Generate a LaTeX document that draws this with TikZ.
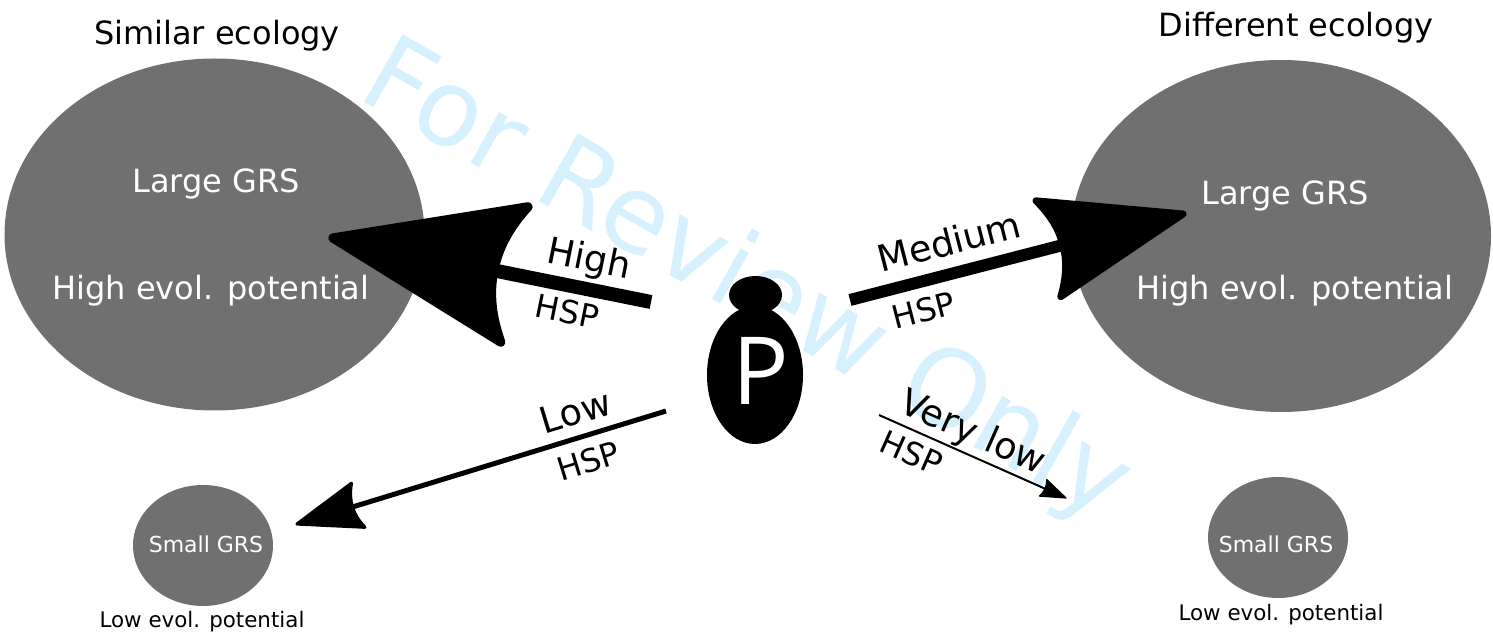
\documentclass[tikz,border=0pt]{standalone}
\usepackage{fontspec}
\setmainfont{DejaVu Sans}
\newfontfamily\lblP{Open Sans}
\usetikzlibrary{arrows.meta,shapes.geometric}
\definecolor{grsgray}{HTML}{707070}
\definecolor{wmblue}{HTML}{D6F1FD}
\pgfdeclarearrow{
  name=Scoop,
  parameters={\the\pgfarrowlength,\the\pgfarrowwidth,\the\pgfarrowinset},
  setup code={
    \pgfarrowssettipend{\pgfarrowlength}
    \pgfarrowssetlineend{1.5\pgfarrowinset}
    \pgfarrowssetbackend{0pt}
    \pgfarrowssavethe\pgfarrowlength
    \pgfarrowssavethe\pgfarrowwidth
    \pgfarrowssavethe\pgfarrowinset
  },
  drawing code={
    \pgfsetroundjoin
    \pgfsetlinewidth{.05\pgfarrowlength}
    \pgfpathmoveto{\pgfqpoint{\pgfarrowlength}{0pt}}
    \pgfpathlineto{\pgfqpoint{0pt}{.5\pgfarrowwidth}}
    \pgfpathcurveto{\pgfqpoint{.67\pgfarrowinset}{.33\pgfarrowwidth}}{\pgfqpoint{\pgfarrowinset}{.17\pgfarrowwidth}}{\pgfqpoint{\pgfarrowinset}{0pt}}
    \pgfpathcurveto{\pgfqpoint{\pgfarrowinset}{-.17\pgfarrowwidth}}{\pgfqpoint{.67\pgfarrowinset}{-.33\pgfarrowwidth}}{\pgfqpoint{0pt}{-.5\pgfarrowwidth}}
    \pgfpathclose
    \pgfusepathqfillstroke
  },
  defaults={length=10pt,width=8pt,inset=2pt}
}
\begin{document}
\begin{tikzpicture}[x=0.5pt,y=-0.5pt,
                    bigND/.style={ellipse,
                                      fill=grsgray,
                                      minimum width=210pt,
                                      minimum height=176pt,
                                      inner sep=0pt},
                    smallND/.style={ellipse,
                                      fill=grsgray,
                                      minimum width=70pt,
                                      minimum height=60.5pt,
                                      inner sep=0pt},
                    plantND/.style={ellipse,
                                      fill=black,
                                      inner sep=0pt},
                    headND/.style={font=\fontsize{16}{19}\selectfont},
                    inGrsND/.style={text=white,
                                      font=\fontsize{16}{19}\selectfont},
                    inSmallND/.style={text=white,
                                      font=\fontsize{11}{13}\selectfont},
                    lowND/.style={font=\fontsize{10.7}{13}\selectfont},
                    topLB/.style={sloped,
                                      font=\fontsize{18.3}{21}\selectfont},
                    hspLB/.style={sloped,
                                      font=\fontsize{16}{19}\selectfont}]
        \useasboundingbox (0,0) rectangle (1493,635);
        \node[text=wmblue,rotate=-29.5,font=\fontsize{53.5}{64}\selectfont](watermark) at (745,284) {For Review Only};

        \node[bigND](simLarge) at (214.5,234.5) {};
        \node[bigND](difLarge) at (1281,236) {};
        \node[smallND](simSmall) at (203,545.5) {};
        \node[smallND](difSmall) at (1278,537.5) {};
        \node[plantND,minimum width=26.5pt,minimum height=19pt](bud) at (755.5,295) {};
        \node[plantND,minimum width=48pt,minimum height=69pt](plant) at (755,375) {};
        \node[plantND,fill=none,text=white,font=\lblP\fontsize{47}{56}\selectfont](pLabel) at (761,371) {P};

        \node[headND](simHead) at (217,36) {Similar ecology};
        \node[headND](difHead) at (1296,28) {Different ecology};
        \node[inGrsND](simGrs) at (216,184) {Large GRS};
        \node[inGrsND](simEvol) at (211,291) {High evol. potential};
        \node[inGrsND](difGrs) at (1285,196) {Large GRS};
        \node[inGrsND](difEvol) at (1295,291) {High evol. potential};
        \node[inSmallND](simSmGrs) at (206,544) {Small GRS};
        \node[inSmallND](difSmGrs) at (1276,544) {Small GRS};
        \node[lowND](simLow) at (202,622) {Low evol. potential};
        \node[lowND](difLow) at (1281,615) {Low evol. potential};

        \coordinate (highTail) at (651,302);
        \coordinate (highTip) at (333,238);
        \coordinate (medTail) at (850,300);
        \coordinate (medTip) at (1183,214);
        \coordinate (lowTail) at (666,411);
        \coordinate (lowTip) at (297,524);
        \coordinate (vlowTail) at (879,415);
        \coordinate (vlowTip) at (1066,498);
        \path
            (highTail) edge [-{Scoop[length=92.5pt,width=69pt,inset=10.5pt]}, line width=7pt]
                node [topLB, above=-1.5pt, pos=.214] {High}
                node [hspLB, below=0pt, pos=.247] {HSP} (highTip)
            (medTail) edge [-{Scoop[length=69.5pt,width=49.5pt,inset=7.5pt]}, line width=6pt]
                node [topLB, above=2.6pt, pos=.322] {Medium}
                node [hspLB, below=2pt, pos=.2] {HSP} (medTip)
            (lowTail) edge [-{Scoop[length=32pt,width=23pt,inset=3pt]}, line width=2.5pt]
                node [topLB, above=1.6pt, pos=.225] {Low}
                node [hspLB, below=1.8pt, pos=.231] {HSP} (lowTip)
            (vlowTail) edge [-{Scoop[length=12.5pt,width=9pt,inset=1pt]}, line width=1pt]
                node [topLB, above=-2.5pt, pos=.455] {Very low}
                node [hspLB, below=.8pt, pos=.22] {HSP} (vlowTip)
            ;
    \end{tikzpicture}
\end{document}
